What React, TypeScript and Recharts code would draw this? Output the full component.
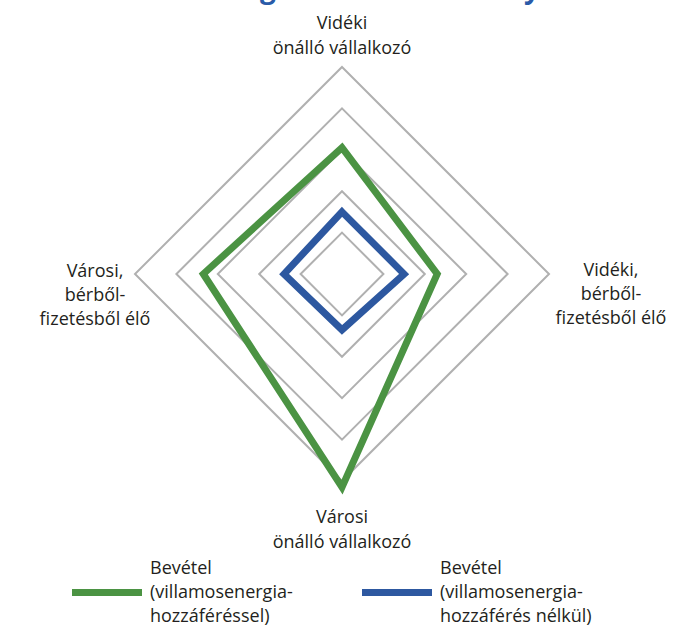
import { RadarChart, Radar, PolarGrid, PolarAngleAxis, PolarRadiusAxis, Legend } from 'recharts'

const categories = [
  'Vidéki önálló vállalkozó',
  'Vidéki, bérből-fizetésből élő',
  'Városi önálló vállalkozó',
  'Városi, bérből-fizetésből élő',
]
const categoryLines = [
  ['Vidéki', 'önálló vállalkozó'],
  ['Vidéki,', 'bérből-', 'fizetésből élő'],
  ['Városi', 'önálló vállalkozó'],
  ['Városi,', 'bérből-', 'fizetésből élő'],
]
const withAccess = [3.05, 2.3, 5.15, 3.35]
const withoutAccess = [1.5, 1.5, 1.35, 1.4]
const radiusTicks = [0, 1, 2, 3, 4, 5]

const seriesKeys = ['withAccess', 'withoutAccess']
const seriesNames = [
  'Bevétel (villamosenergia-hozzáféréssel)',
  'Bevétel (villamosenergia-hozzáférés nélkül)',
]
const legendLines = [
  ['Bevétel', '(villamosenergia-', 'hozzáféréssel)'],
  ['Bevétel', '(villamosenergia-', 'hozzáférés nélkül)'],
]

const data = categories.map((c, i) => ({
  axis: c,
  withAccess: withAccess[i],
  withoutAccess: withoutAccess[i],
}))

const FONT = '"Open Sans", Lato, sans-serif'
const FONT_SIZE = 18
const TEXT = '#231f20'
const GREEN = '#4b9343'
const BLUE = '#2d58a0'
const GRID = '#b0b0b0'
const CX = 342
const CY = 274

function AxisTick(props: any) {
  const { x, y, index } = props
  const lines = categoryLines[index] || []
  let tx = x
  let ys: number[] = []
  if (y < CY - 2) {
    ys = lines.map((_, i) => y - 5 - (lines.length - 1 - i) * 25)
  } else if (y > CY + 2) {
    ys = lines.map((_, i) => y + 34 + i * 25)
  } else if (x > CX) {
    tx = x + 54
    ys = lines.map((_, i) => y + 2 + i * 24)
  } else {
    tx = x - 32
    ys = lines.map((_, i) => y + 3 + i * 24)
  }
  return (
    <g>
      {lines.map((l, i) => (
        <text key={l} x={tx} y={ys[i]} textAnchor="middle" fill={TEXT} fontSize={FONT_SIZE} fontFamily={FONT}>
          {l}
        </text>
      ))}
    </g>
  )
}

function LegendContent(props: any) {
  const payload = props.payload || []
  const lefts = [72, 362]
  return (
    <div style={{ position: 'relative', width: 696, height: 76, fontFamily: FONT, fontSize: FONT_SIZE, color: TEXT }}>
      {payload.map((entry: any) => {
        const i = seriesKeys.indexOf(entry.dataKey)
        return (
          <div key={entry.value} style={{ position: 'absolute', left: lefts[i], top: 0 }}>
            <div style={{ position: 'absolute', left: 0, top: 34, width: 70, height: 7, background: entry.color }} />
            <div style={{ position: 'absolute', left: 78, top: 0, lineHeight: '24px', whiteSpace: 'nowrap' }}>
              {legendLines[i].map((l) => (
                <div key={l}>{l}</div>
              ))}
            </div>
          </div>
        )
      })}
    </div>
  )
}

export default function App() {
  return (
    <div style={{ position: 'absolute', left: 0, top: 0, width: 696, height: 630, background: '#fff', overflow: 'hidden' }}>
      <div style={{ position: 'absolute', left: 260, top: -27, fontFamily: FONT, fontWeight: 700, fontSize: 28, color: '#2a5ba8', lineHeight: '28px' }}>g</div>
      <div style={{ position: 'absolute', left: 524, top: -27, fontFamily: FONT, fontWeight: 700, fontSize: 28, color: '#2a5ba8', lineHeight: '28px' }}>y</div>
      <RadarChart
        width={696}
        height={630}
        data={data}
        cx={CX}
        cy={CY}
        outerRadius={207}
        margin={{ top: 0, right: 0, bottom: 0, left: 0 }}
      >
        <PolarGrid gridType="polygon" radialLines={false} stroke={GRID} strokeWidth={2} />
        <PolarAngleAxis dataKey="axis" tick={<AxisTick />} tickLine={false} axisLine={false} />
        <PolarRadiusAxis
          domain={[0, 5]}
          ticks={radiusTicks}
          allowDataOverflow
          tick={false}
          axisLine={false}
        />
        <Radar
          name={seriesNames[0]}
          dataKey="withAccess"
          stroke={GREEN}
          strokeWidth={7}
          fill="none"
          fillOpacity={0}
          dot={false}
          isAnimationActive={false}
        />
        <Radar
          name={seriesNames[1]}
          dataKey="withoutAccess"
          stroke={BLUE}
          strokeWidth={7}
          fill="none"
          fillOpacity={0}
          dot={false}
          isAnimationActive={false}
        />
        <Legend
          content={<LegendContent />}
          wrapperStyle={{ left: 0, top: 555, width: 696 }}
        />
      </RadarChart>
    </div>
  )
}
